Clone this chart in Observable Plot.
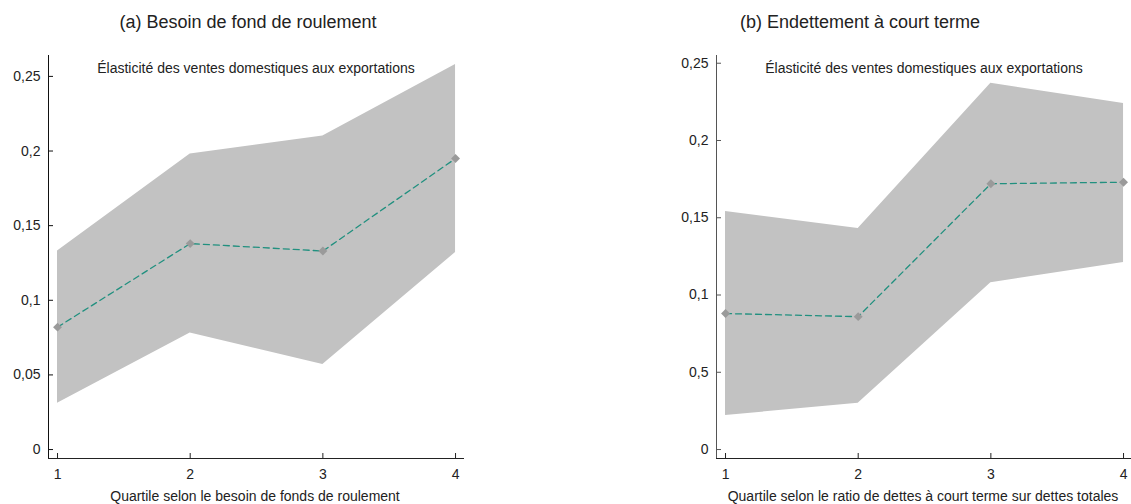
<!DOCTYPE html>
<html>
<head>
<meta charset="utf-8">
<script src="https://cdn.jsdelivr.net/npm/d3@7"></script>
<script src="https://cdn.jsdelivr.net/npm/@observablehq/plot@0.6"></script>
<style>
  html, body { margin: 0; padding: 0; background: #fff; }
  #wrap { position: relative; width: 1131px; height: 504px; font-family: "Liberation Sans", Arial, sans-serif; color: #222; overflow: hidden; }
  .panel { position: absolute; top: 0; }
  .title { position: absolute; top: 12px; font-size: 18px; white-space: nowrap; transform: translateX(-50%); }
  .xlabel { position: absolute; top: 488px; font-size: 14px; white-space: nowrap; transform: translateX(-50%); }
</style>
</head>
<body>
<div id="wrap"></div>
<script>
// ---- data ----
const quartiles = [1, 2, 3, 4];
const xTickLabels = ["1", "2", "3", "4"];

// Panel (a) Besoin de fond de roulement
const pointA = [0.082, 0.138, 0.133, 0.195];
const upperA = [0.133, 0.198, 0.210, 0.258];
const lowerA = [0.031, 0.078, 0.057, 0.132];

// Panel (b) Endettement à court terme
const pointB = [0.088, 0.086, 0.172, 0.173];
const upperB = [0.154, 0.143, 0.237, 0.224];
const lowerB = [0.022, 0.030, 0.108, 0.121];

const yTicks = [0, 0.05, 0.1, 0.15, 0.2, 0.25];
const yTickLabelsA = ["0", "0,05", "0,1", "0,15", "0,2", "0,25"];
const yTickLabelsB = ["0", "0,5", "0,1", "0,15", "0,2", "0,25"];

const titleA = "(a) Besoin de fond de roulement";
const titleB = "(b) Endettement à court terme";
const subtitle = "Élasticité des ventes domestiques aux exportations";
const xLabelA = "Quartile selon le besoin de fonds de roulement";
const xLabelB = "Quartile selon le ratio de dettes à court terme sur dettes totales";

// ---- drawing ----
const wrap = document.getElementById("wrap");
const H = 504, MT = 55, MB = 46;

function panel({point, upper, lower, yDomain, yLabels, width, marginLeft, marginRight, axisColor, left}) {
  const rows = quartiles.map((q, i) => ({q, pt: point[i], hi: upper[i], lo: lower[i]}));
  const plotW = width - marginLeft - marginRight;
  const plotH = H - MT - MB;
  const fig = Plot.plot({
    width, height: H, marginLeft, marginRight, marginTop: MT, marginBottom: MB,
    x: {domain: [0.932, 4.06]},
    y: {domain: yDomain},
    style: {fontFamily: "'Liberation Sans', Arial, sans-serif", fontSize: "14px", color: "#222", background: "transparent", overflow: "visible"},
    marks: [
      Plot.areaY(rows, {x: "q", y1: "lo", y2: "hi", fill: "#c2c2c2", curve: "linear"}),
      Plot.lineY(rows, {x: "q", y: "pt", stroke: "#21907f", strokeWidth: 1.3, strokeDasharray: "6,4"}),
      Plot.dot(rows, {x: "q", y: "pt", symbol: "diamond2", r: 4, fill: "#9a9a9a", stroke: "none"}),
      Plot.text([subtitle], {frameAnchor: "top", dy: 13, lineAnchor: "middle", fontSize: 14, fill: "#222"}),
      Plot.frame({anchor: "left", stroke: axisColor}),
      Plot.frame({anchor: "bottom", stroke: "#222"}),
      Plot.tickY(yTicks, {y: d => d, insetRight: plotW - 5, stroke: axisColor}),
      Plot.tickX(quartiles, {x: d => d, insetTop: plotH - 5, stroke: "#222"}),
      Plot.axisY(yTicks, {tickSize: 0, tickPadding: 8, label: null, tickFormat: d => yLabels[yTicks.indexOf(d)]}),
      Plot.axisX(quartiles, {tickSize: 0, tickPadding: 11, label: null, tickFormat: d => xTickLabels[quartiles.indexOf(d)]})
    ]
  });
  fig.classList.add("panel");
  fig.style.left = left + "px";
  wrap.appendChild(fig);
}

panel({point: pointA, upper: upperA, lower: lowerA, yDomain: [-0.006, 0.264], yLabels: yTickLabelsA,
       width: 566, marginLeft: 48, marginRight: 103, axisColor: "#111", left: 0});
panel({point: pointB, upper: upperB, lower: lowerB, yDomain: [-0.0058, 0.255], yLabels: yTickLabelsB,
       width: 565, marginLeft: 150, marginRight: 0, axisColor: "#555", left: 566});

function label(text, cls, x) {
  const d = document.createElement("div");
  d.className = cls;
  d.textContent = text;
  d.style.left = x + "px";
  wrap.appendChild(d);
}
label(titleA, "title", 248);
label(titleB, "title", 860);
label(xLabelA, "xlabel", 255);
label(xLabelB, "xlabel", 923);
</script>
</body>
</html>
